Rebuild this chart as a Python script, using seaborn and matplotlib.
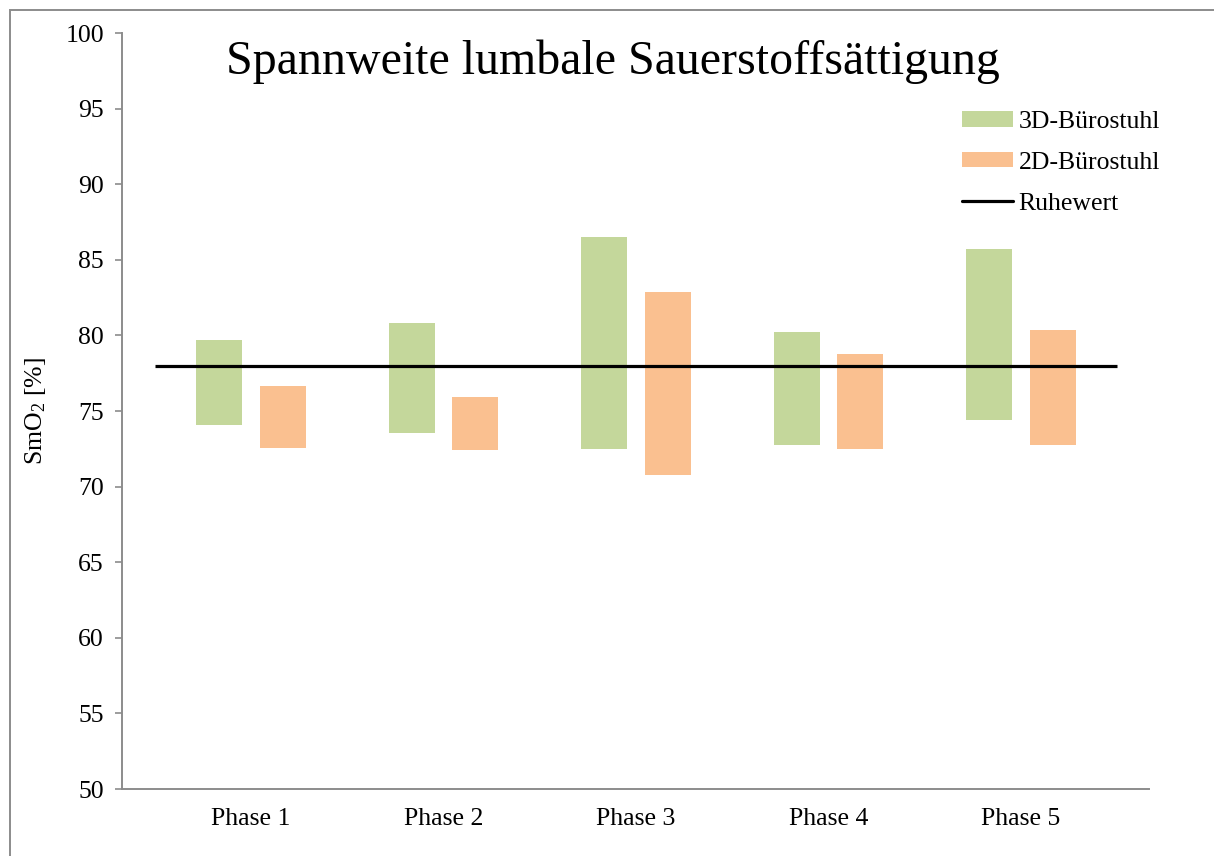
import numpy as np
import pandas as pd
import matplotlib
matplotlib.use("Agg")
import matplotlib.pyplot as plt
import seaborn as sns
from matplotlib.patches import Patch, Rectangle
from matplotlib.lines import Line2D

# ---- data ----
phases = ["Phase 1", "Phase 2", "Phase 3", "Phase 4", "Phase 5"]
low_3d = [74.1, 73.55, 72.5, 72.75, 74.4]
high_3d = [79.7, 80.8, 86.5, 80.2, 85.7]
low_2d = [72.55, 72.4, 70.8, 72.5, 72.75]
high_2d = [76.65, 75.9, 82.9, 78.8, 80.35]
ruhewert = 78.0
y_ticks = [50, 55, 60, 65, 70, 75, 80, 85, 90, 95, 100]

title = "Spannweite lumbale Sauerstoffsättigung"
series_names = ["3D-Bürostuhl", "2D-Bürostuhl", "Ruhewert"]
col_3d = "#C4D79B"
col_2d = "#FAC090"

sns.set_theme(style="white")
plt.rcParams["font.family"] = ["Liberation Serif", "DejaVu Serif"]
plt.rcParams["mathtext.default"] = "regular"
plt.rcParams["text.color"] = "black"
plt.rcParams["axes.labelcolor"] = "black"
plt.rcParams["xtick.labelcolor"] = "black"
plt.rcParams["ytick.labelcolor"] = "black"

W, H = 1214, 856
fig = plt.figure(figsize=(W / 100, H / 100), dpi=100)
ax = fig.add_axes([122 / W, 1 - 789 / H, (1149 - 122) / W, (789 - 33) / H])

idx = np.arange(len(phases))
off = 0.166
bw = 0.239
df3 = pd.DataFrame({"pos": idx - off, "span": np.array(high_3d) - np.array(low_3d)})
df2 = pd.DataFrame({"pos": idx + off, "span": np.array(high_2d) - np.array(low_2d)})

sns.barplot(data=df3, x="pos", y="span", native_scale=True, width=bw,
            bottom=low_3d, color=col_3d, saturation=1, linewidth=0,
            errorbar=None, ax=ax)
sns.barplot(data=df2, x="pos", y="span", native_scale=True, width=bw,
            bottom=low_2d, color=col_2d, saturation=1, linewidth=0,
            errorbar=None, ax=ax)

ax.hlines(ruhewert, -0.5, 4.5, color="black", linewidth=2.3, zorder=5)

ax.set_xlim((122 - 251) / 192.5, (1149 - 251) / 192.5)
ax.set_ylim(50, 100)
ax.set_yticks(y_ticks)
ax.set_yticklabels([str(t) for t in y_ticks], fontsize=18.5, color="black")
ax.set_xticks(idx)
ax.set_xticklabels(phases, fontsize=18.5, color="black")
ax.set_xlabel("")
ax.set_ylabel("")

for s in ["top", "right"]:
    ax.spines[s].set_visible(False)
for s in ["left", "bottom"]:
    ax.spines[s].set_color("#8C8C8C")
    ax.spines[s].set_linewidth(1.4)
ax.tick_params(axis="y", direction="out", length=5, width=1.2, color="#8C8C8C",
               pad=8, left=True, labelcolor="black")
ax.tick_params(axis="x", length=0, pad=14, labelcolor="black")
ax.grid(False)

fig.text(613 / W, 1 - 62 / H, title, ha="center", va="center", fontsize=34.5,
         color="black")
fig.text(35 / W, 1 - 411 / H, "SmO$_2$ [%]", rotation=90, ha="center",
         va="center", fontsize=18.5, color="black")

handles = [Patch(facecolor=col_3d, edgecolor="none"),
           Patch(facecolor=col_2d, edgecolor="none"),
           Line2D([0], [0], color="black", linewidth=2.3)]
leg = fig.legend(handles, series_names, loc="upper left",
                 bbox_to_anchor=(962 / W, 1 - 111 / H), frameon=False,
                 fontsize=18.5, handlelength=2.0, handleheight=0.55,
                 handletextpad=0.2, labelspacing=0.73, borderaxespad=0,
                 borderpad=0)
for t in leg.get_texts():
    t.set_color("black")

fig.patches.append(Rectangle((9.5 / W, -0.1), 2, 1 - 9.5 / H + 0.1,
                             transform=fig.transFigure, fill=False,
                             edgecolor="#8C8C8C", linewidth=1.4))

fig.savefig("out.png", dpi=100)
